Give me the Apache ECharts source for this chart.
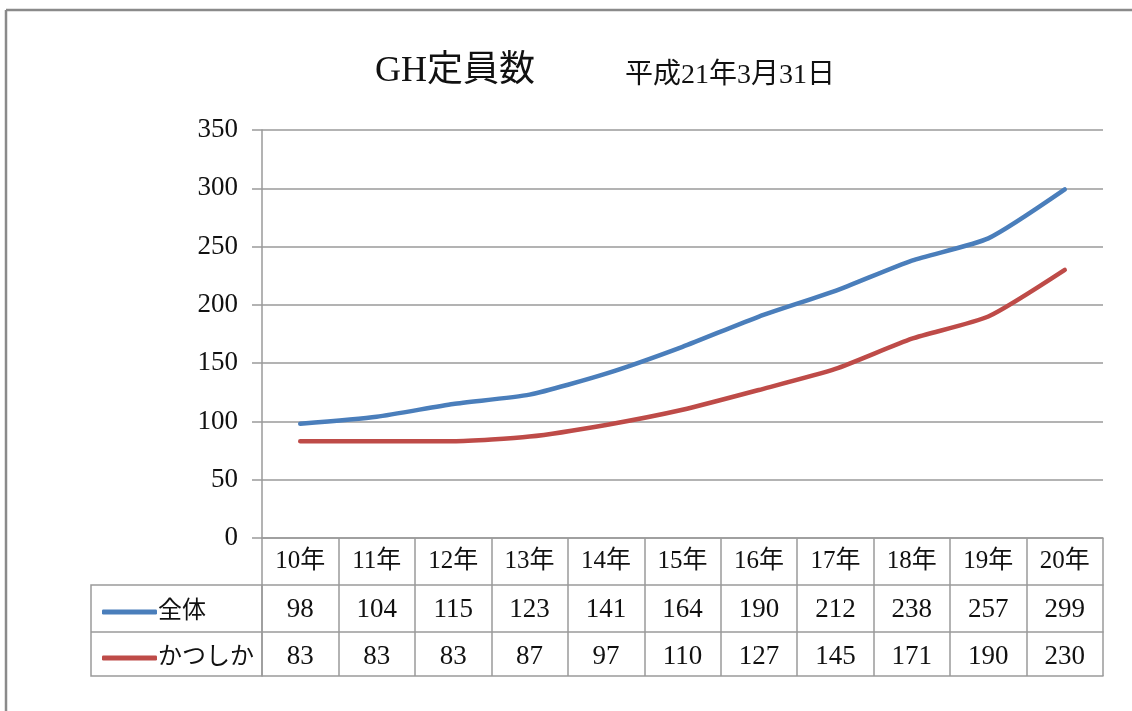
<!DOCTYPE html>
<html>
<head>
<meta charset="utf-8">
<script src="https://cdn.jsdelivr.net/npm/echarts@6/dist/echarts.min.js"></script>
<style>
  html, body { margin: 0; padding: 0; background: #fff; }
  #chart { width: 1132px; height: 711px; }
</style>
</head>
<body>
<div id="chart"></div>
<script>
// 年度（表の見出し）
const years = ['10年', '11年', '12年', '13年', '14年', '15年', '16年', '17年', '18年', '19年', '20年'];
// 全体
const zentai = [98, 104, 115, 123, 141, 164, 190, 212, 238, 257, 299];
// かつしか
const katsushika = [83, 83, 83, 87, 97, 110, 127, 145, 171, 190, 230];
const yTicks = { min: 0, max: 350, interval: 50 };

const serif = '"Liberation Serif", "DejaVu Serif", "Noto Sans CJK JP", serif';
const gray = '#9a9a9a';

const chart = echarts.init(document.getElementById('chart'));

// 表の行（値の行は軸ラベルで描く）
const rowAxis = (offset, values) => ({
  type: 'category',
  data: years,
  position: 'bottom',
  offset: offset,
  boundaryGap: true,
  axisLine: { show: true, lineStyle: { color: gray, width: 1.5 } },
  axisTick: { show: false },
  axisLabel: {
    show: !!values,
    interval: 0,
    margin: 11,
    fontFamily: serif,
    fontSize: 27,
    color: '#111',
    formatter: (v, i) => values ? String(values[i]) : ''
  },
  splitLine: { show: false }
});

const option = {
  backgroundColor: '#fff',
  animation: false,
  title: [
    {
      text: 'GH定員数',
      left: 370, top: 49,
      textStyle: { fontFamily: serif, fontSize: 36, fontWeight: 'normal', color: '#111' }
    },
    {
      text: '平成21年3月31日',
      left: 620, top: 57,
      textStyle: { fontFamily: serif, fontSize: 28, fontWeight: 'normal', color: '#111' }
    }
  ],
  legend: {
    orient: 'vertical',
    left: 97, top: 595,
    icon: 'roundRect',
    itemWidth: 55, itemHeight: 5,
    itemGap: 22,
    textStyle: { fontFamily: serif, fontSize: 24, color: '#111', padding: [0, 0, 0, -4] },
    data: ['全体', 'かつしか']
  },
  grid: { left: 262, right: 29, top: 130, bottom: 173 },
  xAxis: [
    {
      type: 'category',
      data: years,
      position: 'bottom',
      boundaryGap: true,
      axisLine: { show: true, lineStyle: { color: gray, width: 1.5 } },
      axisTick: { show: true, interval: 0, length: 138, lineStyle: { color: gray, width: 1.5 } },
      axisLabel: {
        interval: 0, margin: 11,
        fontFamily: serif, fontSize: 25, color: '#111'
      },
      splitLine: { show: false }
    },
    rowAxis(47, zentai),
    rowAxis(94, katsushika),
    rowAxis(138, null)
  ],
  yAxis: {
    type: 'value',
    min: yTicks.min, max: yTicks.max, interval: yTicks.interval,
    axisLine: { show: true, lineStyle: { color: gray, width: 1.5 } },
    axisTick: { show: true, length: 10, lineStyle: { color: gray, width: 1.5 } },
    axisLabel: { margin: 24, fontFamily: serif, fontSize: 27, color: '#111' },
    splitLine: { show: true, lineStyle: { color: gray, width: 1.5 } }
  },
  series: [
    {
      name: '全体',
      type: 'line',
      data: zentai,
      smooth: 0.2,
      symbol: 'none',
      lineStyle: { width: 4.5, color: '#4a7ebb', cap: 'round' },
      itemStyle: { color: '#4a7ebb' }
    },
    {
      name: 'かつしか',
      type: 'line',
      data: katsushika,
      smooth: 0.2,
      symbol: 'none',
      lineStyle: { width: 4.5, color: '#be4b48', cap: 'round' },
      itemStyle: { color: '#be4b48' }
    }
  ],
  graphic: [
    // 外枠
    { type: 'line', shape: { x1: 6, y1: 10, x2: 1132, y2: 10 }, style: { stroke: '#8a8a8a', lineWidth: 2.5 } },
    { type: 'line', shape: { x1: 6, y1: 10, x2: 6, y2: 711 }, style: { stroke: '#8a8a8a', lineWidth: 2.5 } },
    // 凡例セル
    { type: 'rect', shape: { x: 91, y: 585, width: 171, height: 91 }, style: { fill: 'none', stroke: gray, lineWidth: 1.5 } },
    { type: 'line', shape: { x1: 91, y1: 632, x2: 262, y2: 632 }, style: { stroke: gray, lineWidth: 1.5 } }
  ]
};

chart.setOption(option);
</script>
</body>
</html>
